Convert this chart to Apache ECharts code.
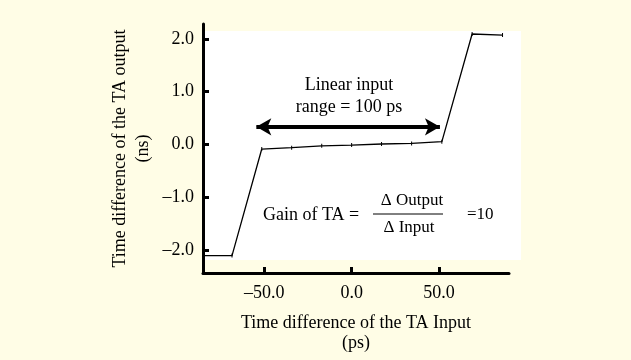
<!DOCTYPE html>
<html>
<head>
<meta charset="utf-8">
<script src="https://cdn.jsdelivr.net/npm/echarts@6/dist/echarts.min.js"></script>
<style>
  html, body { margin: 0; padding: 0; background: #fffde6; }
  #main { width: 631px; height: 360px; }
</style>
</head>
<body>
<div id="main"></div>
<script>
// TA transfer curve (input ps -> output ns)
const inputPs = [-85, -68.4, -51.4, -34.3, -17.1, 0, 17.1, 34.3, 51.6, 68.9, 86.3];
const outputNs = [-2.11, -2.11, -0.09, -0.065, -0.03, -0.015, 0.005, 0.017, 0.05, 2.09, 2.07];
const yTicks = [-2, -1, 0, 1, 2];
const xTicks = [-50, 0, 50];
const rangeArrow = [[-54.5, 0.33], [50.5, 0.33]];

const serif = "'Liberation Serif', 'Times New Roman', serif";
const fmt = (v) => (v < 0 ? '\u2013' : '') + Math.abs(v).toFixed(1);

let chart = echarts.init(document.getElementById('main'));

function txt(text, x, y, align, size) {
  return {
    type: 'text', x: x, y: y,
    style: { text: text, fontSize: size || 18, fontFamily: serif, fill: '#000', align: align, verticalAlign: 'middle', textAlign: align, textVerticalAlign: 'middle' },
  };
}

let option = {
  backgroundColor: '#fffde6',
  animation: false,
  textStyle: { fontFamily: serif },
  grid: { left: 203, right: 122, top: 24, bottom: 87 },
  xAxis: {
    type: 'value',
    min: -85,
    max: 90,
    name: 'Time difference of the TA Input\n(ps)',
    nameLocation: 'middle',
    nameGap: 40,
    nameTextStyle: { fontSize: 18, color: '#000', fontFamily: serif, lineHeight: 20 },
    axisLine: { onZero: false, lineStyle: { color: '#000', width: 3 } },
    axisTick: { inside: true, length: 6, lineStyle: { width: 3, color: '#000' }, customValues: xTicks },
    axisLabel: { customValues: xTicks, formatter: fmt, fontSize: 18, color: '#000', margin: 11, fontFamily: serif },
    splitLine: { show: false },
  },
  yAxis: {
    type: 'value',
    min: -2.44,
    max: 2.28,
    name: 'Time difference of the TA output\n(ns)',
    nameLocation: 'middle',
    nameRotate: 90,
    nameGap: 48,
    nameTextStyle: { fontSize: 18, color: '#000', fontFamily: serif, lineHeight: 23 },
    axisLine: { onZero: false, lineStyle: { color: '#000', width: 3 } },
    axisTick: { inside: true, length: 6, lineStyle: { width: 3, color: '#000' }, customValues: yTicks },
    axisLabel: { customValues: yTicks, formatter: fmt, fontSize: 18, color: '#000', margin: 9, fontFamily: serif },
    splitLine: { show: false },
  },
  graphic: [
    {
      type: 'rect',
      z: -10,
      shape: { x: 205, y: 31, width: 316, height: 229 },
      style: { fill: '#ffffff' },
      silent: true,
    },
    txt('Linear input', 349, 85, 'center'),
    txt('range = 100 ps', 349, 107, 'center'),
    txt('Gain of TA =', 263, 215, 'left'),
    txt('\u0394 Output', 412, 201, 'center', 17),
    {
      type: 'line',
      shape: { x1: 373, y1: 214, x2: 443, y2: 214 },
      style: { stroke: '#000', lineWidth: 1 },
    },
    txt('\u0394 Input', 409, 228, 'center', 17),
    txt('=10', 467, 215, 'left', 17),
  ],
  series: [
    {
      type: 'line',
      data: inputPs.map((x, i) => [x, outputNs[i]]),
      symbol: 'rect',
      symbolSize: [1, 4],
      itemStyle: { color: '#000' },
      lineStyle: { color: '#000', width: 1.3 },
      markLine: {
        silent: true,
        symbol: ['arrow', 'arrow'],
        symbolSize: [13, 15],
        label: { show: false },
        lineStyle: { color: '#000', width: 4, type: 'solid' },
        data: [[{ coord: rangeArrow[0] }, { coord: rangeArrow[1] }]],
      },
    },
  ],
};

if (option && typeof option === 'object') {
  chart.setOption(option);
}
</script>
</body>
</html>
